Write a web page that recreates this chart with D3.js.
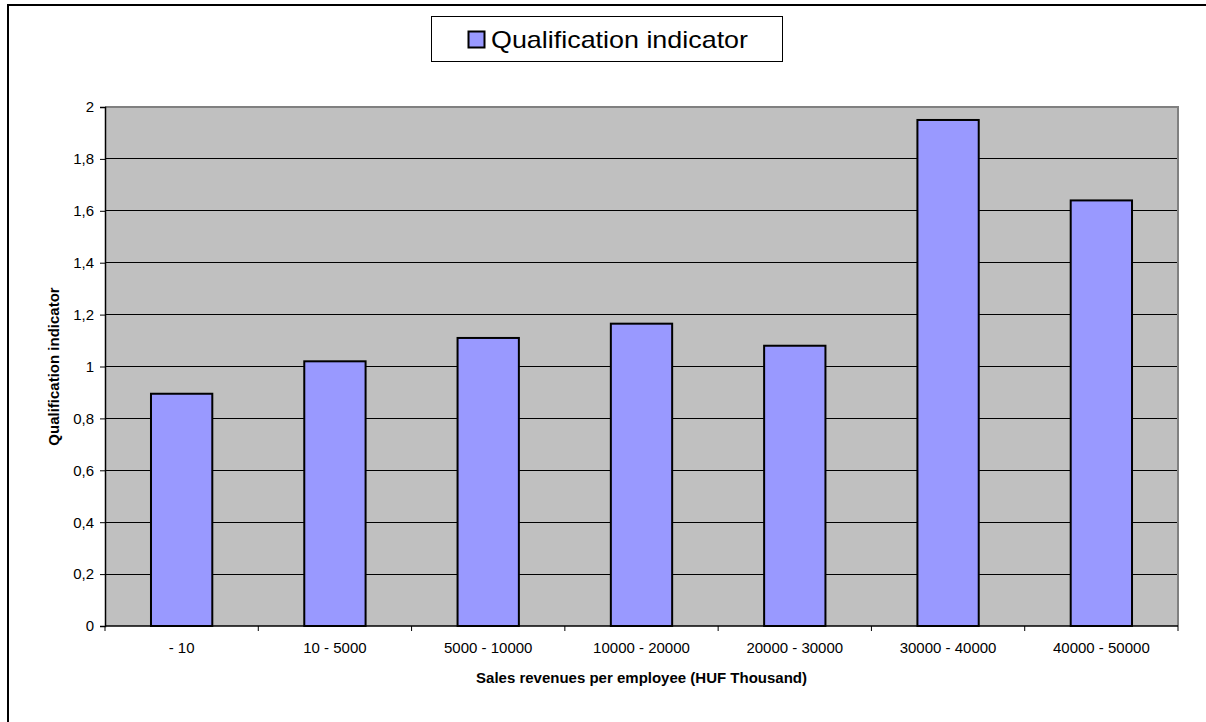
<!DOCTYPE html>
<html>
<head>
<meta charset="utf-8">
<script src="https://cdn.jsdelivr.net/npm/d3@7"></script>
<style>
  html, body { margin: 0; padding: 0; background: #fff; }
  svg { display: block; font-family: "Liberation Sans", Arial, sans-serif; }
</style>
</head>
<body>
<svg id="chart" width="1206" height="722"></svg>
<script>
// Revenue bands and the qualification indicator for each band
const categories = ["- 10", "10 - 5000", "5000 - 10000", "10000 - 20000", "20000 - 30000", "30000 - 40000", "40000 - 50000"];
const values = [0.895, 1.02, 1.11, 1.165, 1.08, 1.95, 1.64];
const yTicks = [0, 0.2, 0.4, 0.6, 0.8, 1, 1.2, 1.4, 1.6, 1.8, 2];
const seriesName = "Qualification indicator";
const xTitle = "Sales revenues per employee (HUF Thousand)";
const yTitle = "Qualification indicator";

const svg = d3.select("#chart");
const plot = { left: 105, right: 1178, top: 107, bottom: 626 };

const x = d3.scaleBand().domain(categories).range([plot.left, plot.right]).padding(0);
const y = d3.scaleLinear().domain([0, 2]).range([plot.bottom, plot.top]);
const fmt = v => String(+v.toFixed(1)).replace(".", ",");

// outer frame
svg.append("rect")
  .attr("x", 8).attr("y", 5).attr("width", 1220).attr("height", 740)
  .attr("fill", "#fff").attr("stroke", "#000").attr("stroke-width", 2);

// plot background
svg.append("rect")
  .attr("x", plot.left).attr("y", plot.top)
  .attr("width", plot.right - plot.left).attr("height", plot.bottom - plot.top)
  .attr("fill", "#c0c0c0");

// horizontal gridlines
svg.append("g").selectAll("line")
  .data(yTicks.filter(t => t > 0 && t < 2))
  .join("line")
  .attr("x1", plot.left).attr("x2", plot.right)
  .attr("y1", d => y(d)).attr("y2", d => y(d))
  .attr("stroke", "#000").attr("stroke-width", 1)
  .attr("shape-rendering", "crispEdges");

// top and right edges of the plot area
svg.append("path")
  .attr("d", `M${plot.left},${plot.top}H${plot.right}V${plot.bottom}`)
  .attr("fill", "none").attr("stroke", "#808080").attr("stroke-width", 2);

// bars
const barW = x.bandwidth() * 0.4;
svg.append("g").selectAll("rect")
  .data(values)
  .join("rect")
  .attr("x", (d, i) => x(categories[i]) + (x.bandwidth() - barW) / 2)
  .attr("y", d => y(d))
  .attr("width", barW)
  .attr("height", d => y(0) - y(d))
  .attr("fill", "#9999ff")
  .attr("stroke", "#000").attr("stroke-width", 2);

// y axis
const yAxis = svg.append("g")
  .attr("transform", `translate(${plot.left},0)`)
  .call(d3.axisLeft(y).tickValues(yTicks).tickFormat(fmt).tickSize(5).tickPadding(6));
yAxis.select(".domain").attr("stroke", "#000").attr("stroke-width", 1.5);
yAxis.selectAll(".tick line").attr("stroke", "#000");
yAxis.selectAll(".tick text")
  .attr("font-size", 15).attr("font-family", "Liberation Sans, Arial, sans-serif").attr("fill", "#000");

// x axis: ticks on the category boundaries
const xAxis = svg.append("g")
  .attr("transform", `translate(0,${plot.bottom})`);
xAxis.append("line")
  .attr("x1", plot.left).attr("x2", plot.right)
  .attr("stroke", "#000").attr("stroke-width", 1.5);
const bounds = categories.map(c => x(c)).concat([x(categories[categories.length - 1]) + x.bandwidth()]);
xAxis.selectAll("line.tick")
  .data(bounds)
  .join("line").attr("class", "tick")
  .attr("x1", d => d).attr("x2", d => d)
  .attr("y1", 0).attr("y2", 5)
  .attr("stroke", "#000").attr("stroke-width", 1);
xAxis.selectAll("text")
  .data(categories)
  .join("text")
  .attr("x", d => x(d) + x.bandwidth() / 2)
  .attr("y", 27)
  .attr("text-anchor", "middle")
  .attr("font-size", 15).attr("fill", "#000")
  .text(d => d);

// axis titles
svg.append("text")
  .attr("x", (plot.left + plot.right) / 2).attr("y", 683)
  .attr("text-anchor", "middle")
  .attr("font-size", 15).attr("font-weight", "bold")
  .text(xTitle);
svg.append("text")
  .attr("transform", `translate(59,${(plot.top + plot.bottom) / 2}) rotate(-90)`)
  .attr("text-anchor", "middle")
  .attr("font-size", 15).attr("font-weight", "bold")
  .text(yTitle);

// legend
const legend = svg.append("g");
legend.append("rect")
  .attr("x", 431.5).attr("y", 16.5).attr("width", 351).attr("height", 45)
  .attr("fill", "#fff").attr("stroke", "#000").attr("stroke-width", 1);
legend.append("rect")
  .attr("x", 468.5).attr("y", 31.5).attr("width", 16).attr("height", 16)
  .attr("fill", "#9999ff").attr("stroke", "#000").attr("stroke-width", 2);
legend.append("text")
  .attr("x", 491).attr("y", 47.5)
  .attr("font-size", 24)
  .attr("textLength", 257).attr("lengthAdjust", "spacingAndGlyphs")
  .text(seriesName);
</script>
</body>
</html>
